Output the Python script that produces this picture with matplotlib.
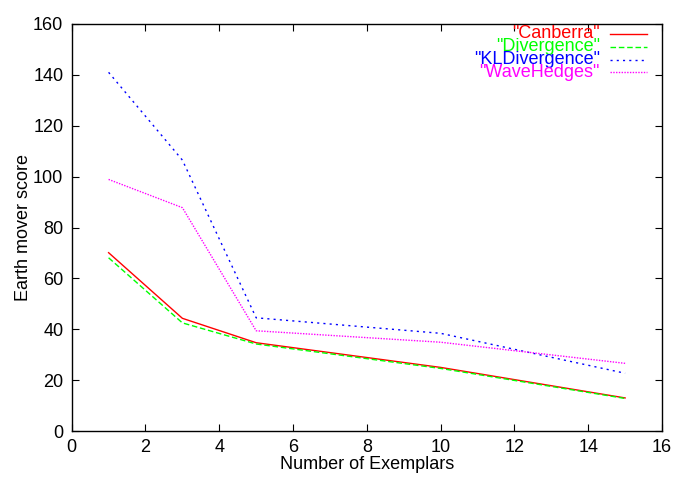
import matplotlib
matplotlib.use("Agg")
import matplotlib.pyplot as plt
from matplotlib.lines import Line2D

plt.rcParams['font.family'] = ['Liberation Sans', 'DejaVu Sans']

# exemplar counts and earth mover scores per distance
exemplars = [1, 3, 5, 10, 15]
canberra = [70.1, 44.3, 34.7, 25.0, 13.0]
divergence = [68.1, 42.5, 34.2, 24.6, 12.8]
kl_divergence = [141.0, 106.5, 44.5, 38.4, 22.7]
wave_hedges = [98.9, 87.8, 39.4, 34.9, 26.6]

series_names = ['"Canberra"', '"Divergence"', '"KLDivergence"', '"WaveHedges"']
series_values = [canberra, divergence, kl_divergence, wave_hedges]
colors = ['#ff0000', '#00ff00', '#0000ff', '#ff00ff']
dashes = [None, (4, 2), (1.5, 3), (1, 1)]

fig = plt.figure(figsize=(6.87, 4.79), dpi=100)
ax = fig.add_axes([71.7 / 687, 1 - 431 / 479, (662 - 71.7) / 687, (431 - 24) / 479])

for name, vals, col, d in zip(series_names, series_values, colors, dashes):
    line, = ax.plot(exemplars, vals, color=col, linewidth=1.0)
    if d is not None:
        line.set_dashes(d)

ax.set_xlim(0, 16)
ax.set_ylim(0, 160)
ax.set_xticks(range(0, 17, 2))
ax.set_yticks(range(0, 161, 20))
ax.tick_params(direction='in', top=True, right=True, length=5, labelsize=13, pad=6)
ax.set_xlabel('Number of Exemplars', fontsize=13, labelpad=0)
ax.set_ylabel('Earth mover score', fontsize=13, labelpad=1)
for sp in ax.spines.values():
    sp.set_linewidth(1.0)

# gnuplot-style key: right aligned text, sample line on the right
for i, (name, col, d) in enumerate(zip(series_names, colors, dashes)):
    y = 1 - (10 + 12.8 * i) / 407
    ax.text((600 - 71.7) / 590.3, y, name, color=col, fontsize=13,
            ha='right', va='center', transform=ax.transAxes)
    sample = Line2D([(610 - 71.7) / 590.3, (647 - 71.7) / 590.3], [y, y],
                    color=col, linewidth=1.0, transform=ax.transAxes)
    if d is not None:
        sample.set_dashes(d)
    ax.add_line(sample)

fig.savefig('out.png', dpi=100)
